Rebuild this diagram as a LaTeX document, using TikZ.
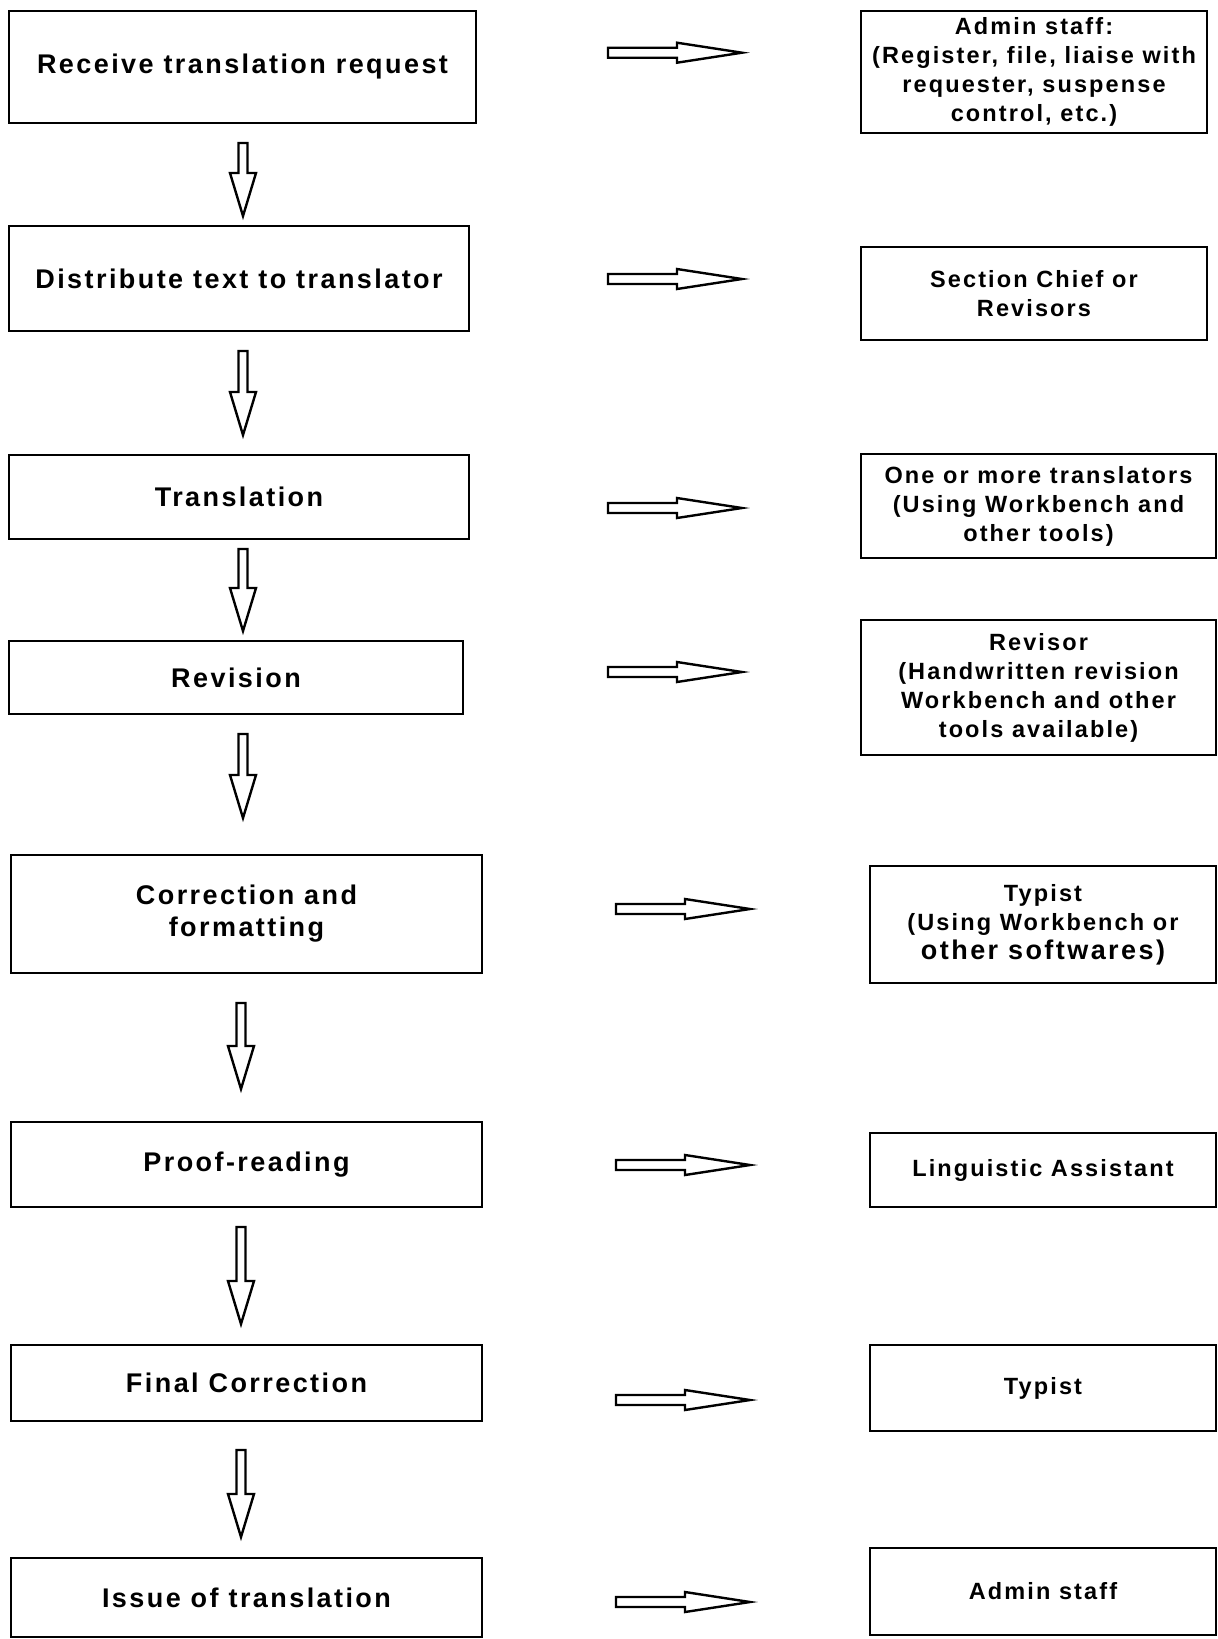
\documentclass[tikz,border=0pt]{standalone}
\usepackage{fontspec}
\setmainfont{Liberation Sans}[LetterSpace=9]
\usetikzlibrary{calc}

\tikzset{
  box/.style={draw, line width=1.4pt, align=center, inner sep=0pt},
  task/.style={box, font=\bfseries\fontsize{13.5}{16}\selectfont},
  staff/.style={box, font=\bfseries\fontsize{11.75}{14.5}\selectfont},
  downarrow/.style={draw, line width=1.2pt, to path={let \p1=(\tikztostart), \p2=(\tikztotarget) in
    (\x1-2.25pt,\y1) -- (\x1-2.25pt,\y2+21.5pt) -- (\x1-6.5pt,\y2+21.5pt) -- (\x2,\y2)
    -- (\x1+6.5pt,\y2+21.5pt) -- (\x1+2.25pt,\y2+21.5pt) -- (\x1+2.25pt,\y1) -- cycle}},
  rightarrow/.style={draw, line width=1.2pt, to path={let \p1=(\tikztostart), \p2=(\tikztotarget) in
    (\x1,\y1-2.5pt) -- (\x2-32.5pt,\y1-2.5pt) -- (\x2-32.5pt,\y1-5pt) -- (\x2,\y2)
    -- (\x2-32.5pt,\y1+5pt) -- (\x2-32.5pt,\y1+2.5pt) -- (\x1,\y1+2.5pt) -- cycle}}
}

\begin{document}
\begin{tikzpicture}[x=0.5pt, y=-0.5pt]
  \useasboundingbox (0,0) rectangle (1218,1639);

  % tasks
  \node[task, minimum width=233.5pt, minimum height=56pt] (task-1) at (242.5,67) {Receive translation request};
  \node[task, minimum width=230pt, minimum height=52.5pt] (task-2) at (239,278.5) {Distribute text to translator};
  \node[task, minimum width=230pt, minimum height=42pt] (task-3) at (239,497) {Translation};
  \node[task, minimum width=227pt, minimum height=36.5pt] (task-4) at (236,677.5) {Revision};
  \node[task, minimum width=235.5pt, minimum height=59pt] (task-5) at (246.5,914) {Correction and\\formatting};
  \node[task, minimum width=235.5pt, minimum height=42.5pt] (task-6) at (246.5,1164.5) {Proof-reading};
  \node[task, minimum width=235.5pt, minimum height=38pt] (task-7) at (246.5,1383) {Final Correction};
  \node[task, minimum width=235.5pt, minimum height=39.5pt] (task-8) at (246.5,1597.5) {Issue of translation};

  % who does it
  \node[staff, minimum width=173pt, minimum height=61pt] (staff-1) at (1034,72) {Admin staff:\\(Register, file, liaise with\\requester, suspense\\control, etc.)};
  \node[staff, minimum width=173pt, minimum height=46.5pt] (staff-2) at (1034,293.5) {Section Chief or\\Revisors};
  \node[staff, minimum width=177.5pt, minimum height=52pt] (staff-3) at (1038.5,506) {One or more translators\\(Using Workbench and\\other tools)};
  \node[staff, minimum width=177.5pt, minimum height=67.5pt] (staff-4) at (1038.5,687.5) {Revisor\\(Handwritten revision\\Workbench and other\\tools available)};
  \node[staff, minimum width=173pt, minimum height=58.5pt] (staff-5) at (1043,924.5) {Typist\\(Using Workbench or\\{\fontsize{13.5}{16}\selectfont other softwares)}};
  \node[staff, minimum width=173pt, minimum height=37pt] (staff-6) at (1043,1170) {Linguistic Assistant};
  \node[staff, minimum width=173pt, minimum height=43pt] (staff-7) at (1043,1388) {Typist};
  \node[staff, minimum width=173pt, minimum height=43.5pt] (staff-8) at (1043,1591.5) {Admin staff};

  % block arrows down the process
  \foreach \i/\x/\a/\b in {1/243/143/216, 2/243/351/435, 3/243/549/631, 4/243/734/818,
                           5/241/1003/1089, 6/241/1227/1324, 7/241/1450/1537}{%
    \coordinate (down-\i-top) at (\x,\a);
    \coordinate (down-\i-tip) at (\x,\b);
    \draw[downarrow] (down-\i-top) to (down-\i-tip);
  }

  % block arrows to the staff
  \foreach \i/\a/\b/\y in {1/608/742/52.7, 2/608/742/279, 3/608/742/508, 4/608/742/672,
                           5/616/750/909, 6/616/750/1165, 7/616/750/1400, 8/616/750/1602}{%
    \coordinate (side-\i-tail) at (\a,\y);
    \coordinate (side-\i-tip) at (\b,\y);
    \draw[rightarrow] (side-\i-tail) to (side-\i-tip);
  }
\end{tikzpicture}
\end{document}
